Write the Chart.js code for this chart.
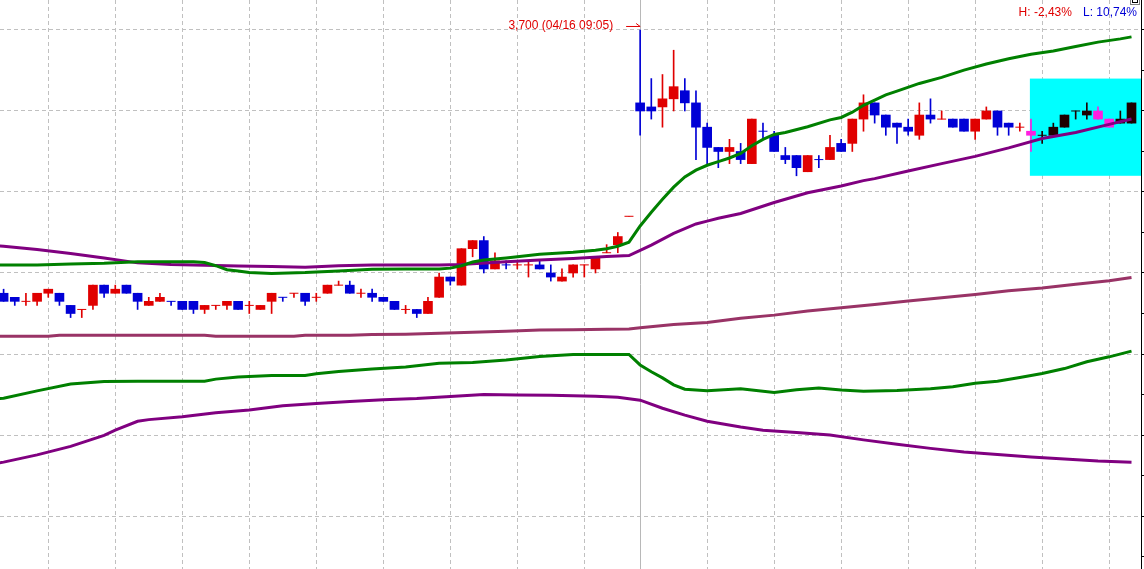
<!DOCTYPE html>
<html>
<head>
<meta charset="utf-8">
<script src="https://cdn.jsdelivr.net/npm/chart.js@4.4.1/dist/chart.umd.min.js"></script>
<style>
  html, body { margin: 0; padding: 0; background: #fff; overflow: hidden; }
  #wrap { width: 1144px; height: 569px; position: relative; }
</style>
</head>
<body>
<div id="wrap"><canvas id="myChart"></canvas></div>
<script>
// 5-minute candles, index 0..101
const opens = [
  3375,3370,3365,3365,3375,3375,3360,3355,3360,3385,
  3375,3385,3375,3360,3365,3365,3365,3365,3355,3360,
  3360,3365,3360,3355,3365,3370,3375,3375,3370,3375,
  3385,3385,3375,3375,3370,3365,3355,3355,3350,3370,
  3395,3385,3430,3440,3405,3410,3410,3410,3410,3400,
  3390,3400,3410,3405,3425,3435,3470,3610,3605,3605,
  3615,3625,3610,3580,3555,3550,3550,3535,3575,3570,
  3545,3545,3525,3540,3540,3560,3560,3590,3610,3595,
  3585,3580,3570,3595,3590,3590,3590,3575,3590,3600,
  3585,3580,3575,3570,3570,3580,3600,3595,3600,3590,
  3585,3585];
const highs = [
  3380,3370,3375,3375,3380,3375,3360,3355,3385,3385,
  3385,3385,3375,3370,3375,3365,3365,3365,3360,3360,
  3365,3365,3365,3360,3375,3370,3375,3375,3375,3385,
  3390,3390,3380,3380,3370,3365,3360,3355,3370,3400,
  3395,3430,3440,3445,3425,3415,3415,3415,3415,3410,
  3405,3410,3410,3420,3435,3450,3470,3700,3640,3645,
  3675,3640,3625,3585,3555,3565,3560,3590,3585,3575,
  3555,3545,3545,3545,3570,3565,3590,3620,3610,3595,
  3585,3590,3610,3615,3600,3590,3590,3590,3605,3600,
  3585,3585,3590,3575,3585,3595,3600,3610,3605,3590,
  3600,3610];
const lows = [
  3365,3360,3360,3360,3370,3360,3345,3345,3355,3370,
  3375,3375,3355,3360,3365,3360,3355,3350,3350,3355,
  3355,3355,3350,3355,3350,3365,3370,3360,3365,3375,
  3385,3375,3370,3365,3365,3355,3350,3345,3350,3370,
  3385,3385,3420,3400,3405,3405,3405,3395,3405,3390,
  3390,3395,3395,3400,3425,3425,3470,3570,3590,3580,
  3600,3600,3540,3535,3530,3535,3535,3535,3565,3550,
  3535,3520,3525,3530,3540,3550,3550,3575,3585,3570,
  3560,3570,3565,3585,3590,3580,3575,3565,3590,3570,
  3570,3575,3550,3560,3570,3580,3590,3590,3590,3580,
  3585,3585];
const closes = [
  3365,3365,3365,3375,3380,3365,3350,3355,3385,3375,
  3380,3375,3365,3365,3370,3365,3355,3355,3360,3360,
  3365,3355,3360,3360,3375,3370,3375,3365,3370,3385,
  3385,3375,3375,3370,3365,3355,3355,3350,3365,3395,
  3390,3430,3440,3405,3415,3410,3410,3410,3405,3395,
  3395,3410,3410,3420,3425,3445,3470,3600,3600,3615,
  3630,3610,3580,3555,3550,3555,3540,3590,3575,3550,
  3540,3530,3545,3540,3555,3550,3590,3610,3595,3580,
  3580,3575,3595,3590,3590,3580,3575,3590,3600,3580,
  3580,3580,3570,3570,3580,3595,3600,3600,3590,3580,
  3590,3610];

// band lines, read at sample candles
const upperGreenAt = [-1,0,3,6,9,12,15,17,18,19,20,21,22,24,27,30,33,36,39,40,41,42,43,45,48,51,53,54,55,56,57,58,59,60,61,62,63,64,65,66,67,68,69,70,72,74,75,76,77,78,79,80,82,84,86,88,90,92,94,96,98,100,101];
const upperGreen = [3410,3410,3410,3411,3412,3414,3414,3414,3413,3409,3404,3402.5,3400.5,3399.5,3400.5,3402.5,3404.5,3405,3405,3406,3409,3413.5,3416,3418.5,3423,3425.5,3428,3430,3433,3438,3458,3475,3491,3506,3518.5,3527,3533,3537.5,3542,3547.5,3557,3565,3571,3573.5,3580.5,3589,3592,3598.5,3607,3613.5,3620,3624.5,3634,3641.5,3650.5,3658,3664.5,3670,3674,3679.5,3685,3689,3691.5];

const upperPurpleAt = [-1,0,3,6,9,12,15,18,21,24,27,30,33,36,39,41,42,45,48,51,54,56,57,58,60,62,63,64,66,69,72,75,77,78,81,84,87,90,93,96,99,101];
const upperPurple = [3434,3433,3429,3424,3418.5,3412.5,3410.5,3409.5,3408.5,3408,3407,3409,3410,3410,3410,3410.5,3411.5,3414,3416,3418,3420.5,3421.5,3428,3434.5,3449,3460.5,3464,3467.5,3473.5,3487,3499,3507.5,3514,3516.5,3526,3535,3544,3554.5,3566,3573.5,3583.5,3590];

const middleAt = [-1,0,4,5,18,19,26,27,31,33,36,39,42,45,48,51,54,56,57,60,63,66,69,72,75,78,81,84,87,90,93,96,99,101];
const middle = [3322,3322,3322,3323,3323,3322,3322,3323,3323,3324,3324.5,3325.5,3327,3328,3329.5,3330,3330.5,3331,3332.5,3336.5,3339,3344,3348,3353,3357,3361,3365.5,3369.5,3373.5,3378,3381.5,3386,3390.5,3394.5];

const lowerGreenAt = [-1,0,3,6,9,12,15,18,19,21,24,27,28,30,33,36,39,42,45,48,51,56,57,58,59,60,61,63,66,69,71,73,75,77,80,83,85,87,89,91,93,95,97,99,101];
const lowerGreen = [3244.5,3245.5,3254.5,3263,3266,3266.5,3266.5,3266.5,3269,3271.5,3273.5,3273.5,3275.5,3278.5,3281.5,3284,3288.5,3289.5,3292.5,3297,3299.5,3299.5,3286.5,3278,3270.5,3262,3256.5,3254.5,3257,3252.5,3256,3258,3255.5,3254,3255,3257,3259.5,3264,3266.5,3271,3276,3282,3290.5,3296.5,3303.5];

const lowerPurpleAt = [-1,0,3,6,9,10,12,13,16,19,22,25,28,31,34,37,40,43,46,49,53,55,57,59,61,63,66,68,71,74,77,80,83,86,89,92,95,98,101];
const lowerPurple = [3164,3166.5,3175.5,3186,3199.5,3206,3217,3219,3222.5,3227.5,3231,3236,3239,3241.5,3243.5,3245,3247.5,3250,3249.5,3249,3248,3246.5,3243,3233,3224.5,3217,3210,3206,3203,3200,3194,3188.5,3183.5,3179,3176,3173,3170.5,3168,3166.5];

const gridIdx = [4,10,16,22,28,34,40,46,52,63,69,75,81,87,93,99];
const priceGrid = [3100,3200,3300,3400,3500,3600,3700];
const priceTicks = [3050,3100,3150,3200,3250,3300,3350,3400,3450,3500,3550,3600,3650,3700];
const sessionBreak = 57;
const peakTime = '04/16 09:05';
const selStart = 91.9, selHigh = 3640, selLow = 3520;
const hText = 'H: -2,43%';
const lText = 'L: 10,74%';

const UP = '#e00000', DOWN = '#0000d6', SEL_UP = '#1e0000', SEL_DOWN = '#ff1ee0';
const yMin = 3034.6, yMax = 3737.0;

const candleColor = closes.map((c, i) => {
  let up = c > opens[i];
  if (c === opens[i]) up = i === 0 || c >= closes[i - 1];
  if (i >= 92) return up ? SEL_UP : SEL_DOWN;
  return up ? UP : DOWN;
});

const bodyIdx = opens.map((o, i) => i).filter(i => opens[i] !== closes[i]);
const dojiIdx = opens.map((o, i) => i).filter(i => opens[i] === closes[i]);

const toPoints = (at, vals) => at.map((x, k) => ({x: x, y: vals[k]}));
const lineSet = (at, vals, color) => ({
  type: 'line',
  data: toPoints(at, vals),
  borderColor: color,
  borderWidth: 3,
  pointRadius: 0,
  tension: 0,
  order: 0
});

const backdrop = {
  id: 'backdrop',
  beforeDatasetsDraw(chart) {
    const {ctx, chartArea, scales: {x, y}} = chart;
    ctx.save();
    const bx = x.getPixelForValue(selStart);
    const by = y.getPixelForValue(selHigh);
    ctx.fillStyle = '#00ffff';
    ctx.fillRect(bx, by, chartArea.right - bx, y.getPixelForValue(selLow) - by);
    const sx = Math.round(x.getPixelForValue(sessionBreak)) + 0.5;
    ctx.strokeStyle = '#b8b8b8';
    ctx.lineWidth = 1;
    ctx.beginPath();
    ctx.moveTo(sx, chartArea.top);
    ctx.lineTo(sx, chartArea.bottom);
    ctx.stroke();
    ctx.restore();
  }
};

const labels = {
  id: 'labels',
  afterDraw(chart) {
    const {ctx, chartArea, scales: {x, y}} = chart;
    const top = Math.max(...highs);
    const k = highs.indexOf(top);
    const px = x.getPixelForValue(k), py = y.getPixelForValue(top);
    ctx.save();
    ctx.font = '12px "Liberation Sans", Arial, sans-serif';
    ctx.textBaseline = 'middle';
    ctx.fillStyle = '#e00000';
    ctx.textAlign = 'right';
    ctx.fillText(top.toLocaleString('en-US') + ' (' + peakTime + ')', px - 27, py - 4);
    ctx.strokeStyle = '#e00000';
    ctx.lineWidth = 1;
    ctx.beginPath();
    ctx.moveTo(px - 14, py - 3.5);
    ctx.lineTo(px, py - 3.5);
    ctx.moveTo(px - 4, py - 6.5);
    ctx.lineTo(px, py - 3.5);
    ctx.stroke();

    const right = chartArea.right - 4;
    ctx.fillStyle = '#0000d6';
    ctx.fillText(lText, right, chartArea.top + 13);
    const lw = ctx.measureText(lText).width;
    ctx.fillStyle = '#e00000';
    ctx.fillText(hText, right - lw - 11, chartArea.top + 13);

    // small window button in the corner
    ctx.strokeStyle = '#808080';
    ctx.strokeRect(chartArea.right - 10.5, -4.5, 9, 9);
    ctx.strokeStyle = '#000';
    ctx.strokeRect(chartArea.right - 8.5, -4.5, 5, 7);
    ctx.restore();
  }
};

const chartArea = document.getElementById('myChart');
const forecast_chart = new Chart(chartArea, {
  type: 'bar',
  data: {
    datasets: [
      lineSet(upperGreenAt, upperGreen, '#008000'),
      lineSet(upperPurpleAt, upperPurple, '#800080'),
      lineSet(middleAt, middle, '#993366'),
      lineSet(lowerGreenAt, lowerGreen, '#008000'),
      lineSet(lowerPurpleAt, lowerPurple, '#800080'),
      {
        type: 'bar',
        data: bodyIdx.map(i => ({x: i, y: [opens[i], closes[i]]})),
        backgroundColor: bodyIdx.map(i => candleColor[i]),
        barThickness: 9,
        grouped: false,
        borderWidth: 0,
        order: 2
      },
      {
        type: 'scatter',
        data: dojiIdx.map(i => ({x: i, y: opens[i]})),
        pointStyle: 'line',
        pointRadius: 4.5,
        borderWidth: 1,
        borderColor: dojiIdx.map(i => candleColor[i]),
        order: 2
      },
      {
        type: 'bar',
        data: opens.map((o, i) => ({x: i, y: [lows[i], highs[i]]})),
        backgroundColor: candleColor,
        barThickness: 1,
        grouped: false,
        borderWidth: 0,
        order: 3
      }
    ]
  },
  options: {
    responsive: true,
    maintainAspectRatio: false,
    animation: false,
    events: [],
    layout: {padding: 0, autoPadding: false},
    plugins: {legend: {display: false}, tooltip: {enabled: false}},
    scales: {
      x: {
        type: 'linear',
        min: -0.322,
        max: 101.85,
        offset: false,
        afterBuildTicks: axis => { axis.ticks = gridIdx.map(v => ({value: v})); },
        ticks: {display: false},
        grid: {color: '#c0c0c0', drawTicks: false, offset: false},
        border: {display: false, dash: [4, 3]}
      },
      y: {
        position: 'right',
        min: yMin,
        max: yMax,
        afterBuildTicks: axis => { axis.ticks = priceGrid.map(v => ({value: v})); },
        ticks: {display: false},
        grid: {color: '#c0c0c0', drawTicks: false},
        border: {display: false, dash: [4, 3]}
      },
      yMarks: {
        type: 'linear',
        position: 'right',
        min: yMin,
        max: yMax,
        afterBuildTicks: axis => { axis.ticks = priceTicks.map(v => ({value: v})); },
        ticks: {display: false},
        grid: {drawOnChartArea: false, drawTicks: true, tickLength: 3, tickColor: '#000'},
        border: {display: true, color: '#000', width: 1}
      }
    }
  },
  plugins: [backdrop, labels]
});
</script>
</body>
</html>
